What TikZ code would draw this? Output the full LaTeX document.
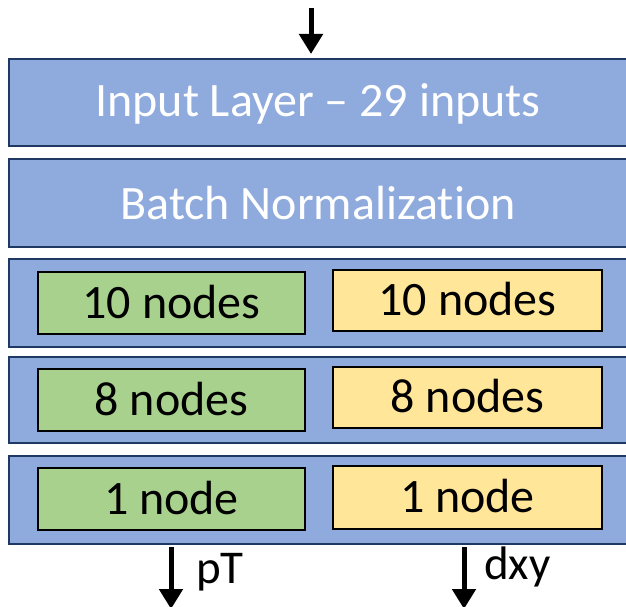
\documentclass[tikz,border=0pt]{standalone}
\usepackage{fontspec}
\setmainfont[Ligatures={NoCommon}]{Carlito}
\usetikzlibrary{arrows.meta}
\definecolor{barblue}{HTML}{8FAADC}
\definecolor{barline}{HTML}{203864}
\definecolor{nodegreen}{HTML}{A9D18E}
\definecolor{nodeyellow}{HTML}{FFE699}
\tikzset{
  bar/.style={draw=barline, fill=barblue, line width=2pt},
  gbox/.style={draw=black, fill=nodegreen, line width=2.2pt, inner sep=0pt},
  ybox/.style={draw=black, fill=nodeyellow, line width=2.2pt, inner sep=0pt},
  wlabel/.style={text=white, font=\fontsize{48}{56}\selectfont, inner sep=0pt, anchor=base},
  blabel/.style={text=black, font=\fontsize{48}{56}\selectfont, inner sep=0pt, anchor=base},
  olabel/.style={text=black, font=\fontsize{47}{55}\selectfont, inner sep=0pt, anchor=base west},
  flow/.style={line width=5pt, -{Triangle[width=23pt,length=20pt]}},
}
\begin{document}
\begin{tikzpicture}[x=1pt,y=-1pt]
\useasboundingbox (0,0) rectangle (626,607);
% bars
\path[bar] (9,59) rectangle (640,146);
\path[bar] (9,159) rectangle (640,247);
\path[bar] (9,259) rectangle (640,347);
\path[bar] (9,357) rectangle (640,443);
\path[bar] (9,456) rectangle (640,544);
\node[wlabel] (inp) at (318,117) {Input Layer – 29 inputs};
\node[wlabel] (bn) at (318,219) {Batch Normalization};
% green column
\node[gbox, minimum width=267pt, minimum height=62pt] (g1) at (171.5,303) {};
\node[blabel] at ([yshift=-15pt]g1.center) {10 nodes};
\node[gbox, minimum width=267pt, minimum height=62pt] (g2) at (171.5,400) {};
\node[blabel] at ([yshift=-15pt]g2.center) {8 nodes};
\node[gbox, minimum width=267pt, minimum height=62pt] (g3) at (171.5,499) {};
\node[blabel] at ([yshift=-15pt]g3.center) {1 node};
% yellow column
\node[ybox, minimum width=269pt, minimum height=61pt] (y1) at (467.5,300.5) {};
\node[blabel] at ([yshift=-15pt]y1.center) {10 nodes};
\node[ybox, minimum width=269pt, minimum height=61pt] (y2) at (467.5,397.5) {};
\node[blabel] at ([yshift=-15pt]y2.center) {8 nodes};
\node[ybox, minimum width=269pt, minimum height=63pt] (y3) at (467.5,497.5) {};
\node[blabel] at ([yshift=-15pt]y3.center) {1 node};
% arrows
\coordinate (topstart) at (311,8);
\coordinate (topend) at (311,54);
\draw[flow] (topstart) -- (topend);
\coordinate (pts) at (171,547);
\coordinate (pte) at (171,609);
\draw[flow] (pts) -- (pte);
\coordinate (dxs) at (464,547);
\coordinate (dxe) at (464,609);
\draw[flow] (dxs) -- (dxe);
\node[olabel] (pt) at (196,583) {pT};
\node[olabel] (dxy) at (484,579) {dxy};
\end{tikzpicture}
\end{document}
